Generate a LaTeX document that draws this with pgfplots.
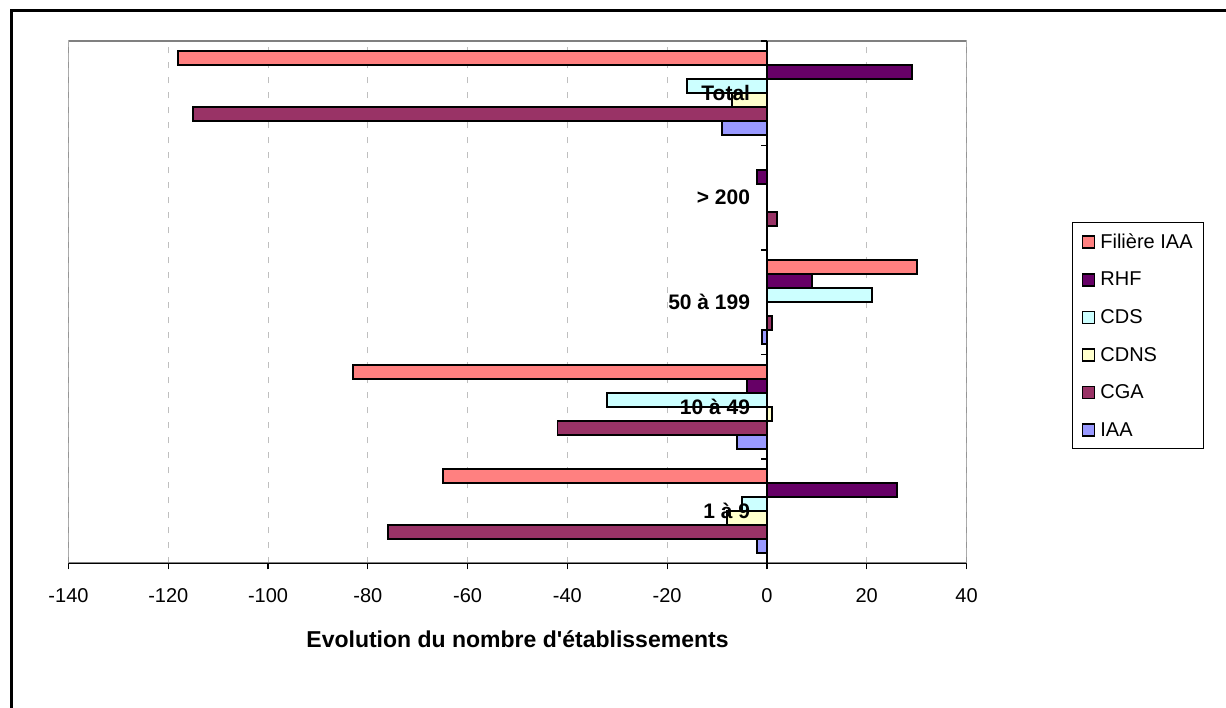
\documentclass[border=0pt]{standalone}
\usepackage{fontspec}
\setmainfont{Liberation Sans}
\usepackage{pgfplots}
\usepackage{pgfplotstable}
\pgfplotsset{compat=1.18}
\definecolor{cFil}{HTML}{FF8080}
\definecolor{cRHF}{HTML}{660066}
\definecolor{cCDS}{HTML}{CCFFFF}
\definecolor{cCDNS}{HTML}{FFFFCC}
\definecolor{cCGA}{HTML}{993366}
\definecolor{cIAA}{HTML}{9999FF}
\pgfplotstableread{
y fil rhf cds cdns cga iaa
0 -65 26 -5 -8 -76 -2
1 -83 -4 -32 1 -42 -6
2 30 9 21 0 1 -1
3 0 -2 0 0 2 0
4 -118 29 -16 -7 -115 -9
}\data
\pgfplotsset{sq legend/.style={legend image code/.code={\draw[##1,line width=1.5pt] (0pt,-6pt) rectangle (12pt,6pt);}}}
\begin{document}
\begin{tikzpicture}
\useasboundingbox (0,0) rectangle (1226pt,708pt);
\fill[white] (0,0) rectangle (1226pt,708pt);
\draw[line width=3pt] (11.5pt,0) -- (11.5pt,697.5pt) -- (1226pt,697.5pt);
\begin{axis}[
  at={(68.5pt,144.5pt)}, anchor=south west,
  scale only axis, width=898pt, height=522.5pt,
  xmin=-140, xmax=40, ymin=-0.5, ymax=4.5,
  xbar, bar width=0.134,
  xtick={-140,-120,...,40},
  xticklabels={-140,-120,-100,-80,-60,-40,-20,0,20,40},
  xtick pos=left, xtick align=outside,
  ytick=\empty,
  major tick length=6pt,
  tick style={black, line width=1.2pt},
  xticklabel style={font=\fontsize{20}{20}\selectfont, text=black, yshift=-16pt},
  axis line style={draw=none},
  xmajorgrids,
  major grid style={draw=gray!50, line width=0.9pt, dash pattern=on 6pt off 9pt},
  xlabel={\bfseries Evolution du nombre d\textquotesingle établissements},
  xlabel style={font=\fontsize{23}{23}\selectfont, at={(axis description cs:0.5,-0.1446)}, anchor=center},
  legend style={at={(1.118,0.653)}, anchor=north west, draw=black, line width=0.8pt,
    font=\fontsize{20}{20}\selectfont, row sep=18.2pt, inner xsep=9pt, inner ysep=9pt,
    /tikz/every odd column/.append style={column sep=3pt}},
  legend cell align=left,
]
\addplot[fill=cFil, draw=black, line width=1.8pt, bar shift=0.335, sq legend] table[x=fil, y=y] {\data};
\addplot[fill=cRHF, draw=black, line width=1.8pt, bar shift=0.201, sq legend] table[x=rhf, y=y] {\data};
\addplot[fill=cCDS, draw=black, line width=1.8pt, bar shift=0.067, sq legend] table[x=cds, y=y] {\data};
\addplot[fill=cCDNS, draw=black, line width=1.8pt, bar shift=-0.067, sq legend] table[x=cdns, y=y] {\data};
\addplot[fill=cCGA, draw=black, line width=1.8pt, bar shift=-0.201, sq legend] table[x=cga, y=y] {\data};
\addplot[fill=cIAA, draw=black, line width=1.8pt, bar shift=-0.335, sq legend] table[x=iaa, y=y] {\data};
\legend{Filière IAA, RHF, CDS, CDNS, CGA, IAA}
\draw[draw=gray, line width=2pt] (rel axis cs:0,0) rectangle (rel axis cs:1,1);
\draw[draw=black, line width=1.6pt] (rel axis cs:0,0) -- (rel axis cs:1,0);
\draw[black, line width=1.5pt] (axis cs:0,-0.5) -- (axis cs:0,4.5);
\pgfplotsinvokeforeach{-0.5,0.5,1.5,2.5,3.5,4.5}{\draw[black, line width=1.2pt] (axis cs:0,#1) -- ([xshift=-6pt]axis cs:0,#1);}
\node[anchor=east, inner sep=0pt, xshift=-16.7pt, font=\bfseries\fontsize{21}{21}\selectfont] at (axis cs:0,4) {Total};
\node[anchor=east, inner sep=0pt, xshift=-16.7pt, font=\bfseries\fontsize{21}{21}\selectfont] at (axis cs:0,3) {> 200};
\node[anchor=east, inner sep=0pt, xshift=-16.7pt, font=\bfseries\fontsize{21}{21}\selectfont] at (axis cs:0,2) {50 à 199};
\node[anchor=east, inner sep=0pt, xshift=-16.7pt, font=\bfseries\fontsize{21}{21}\selectfont] at (axis cs:0,1) {10 à 49};
\node[anchor=east, inner sep=0pt, xshift=-16.7pt, font=\bfseries\fontsize{21}{21}\selectfont] at (axis cs:0,0) {1 à 9};
\end{axis}
\end{tikzpicture}
\end{document}
